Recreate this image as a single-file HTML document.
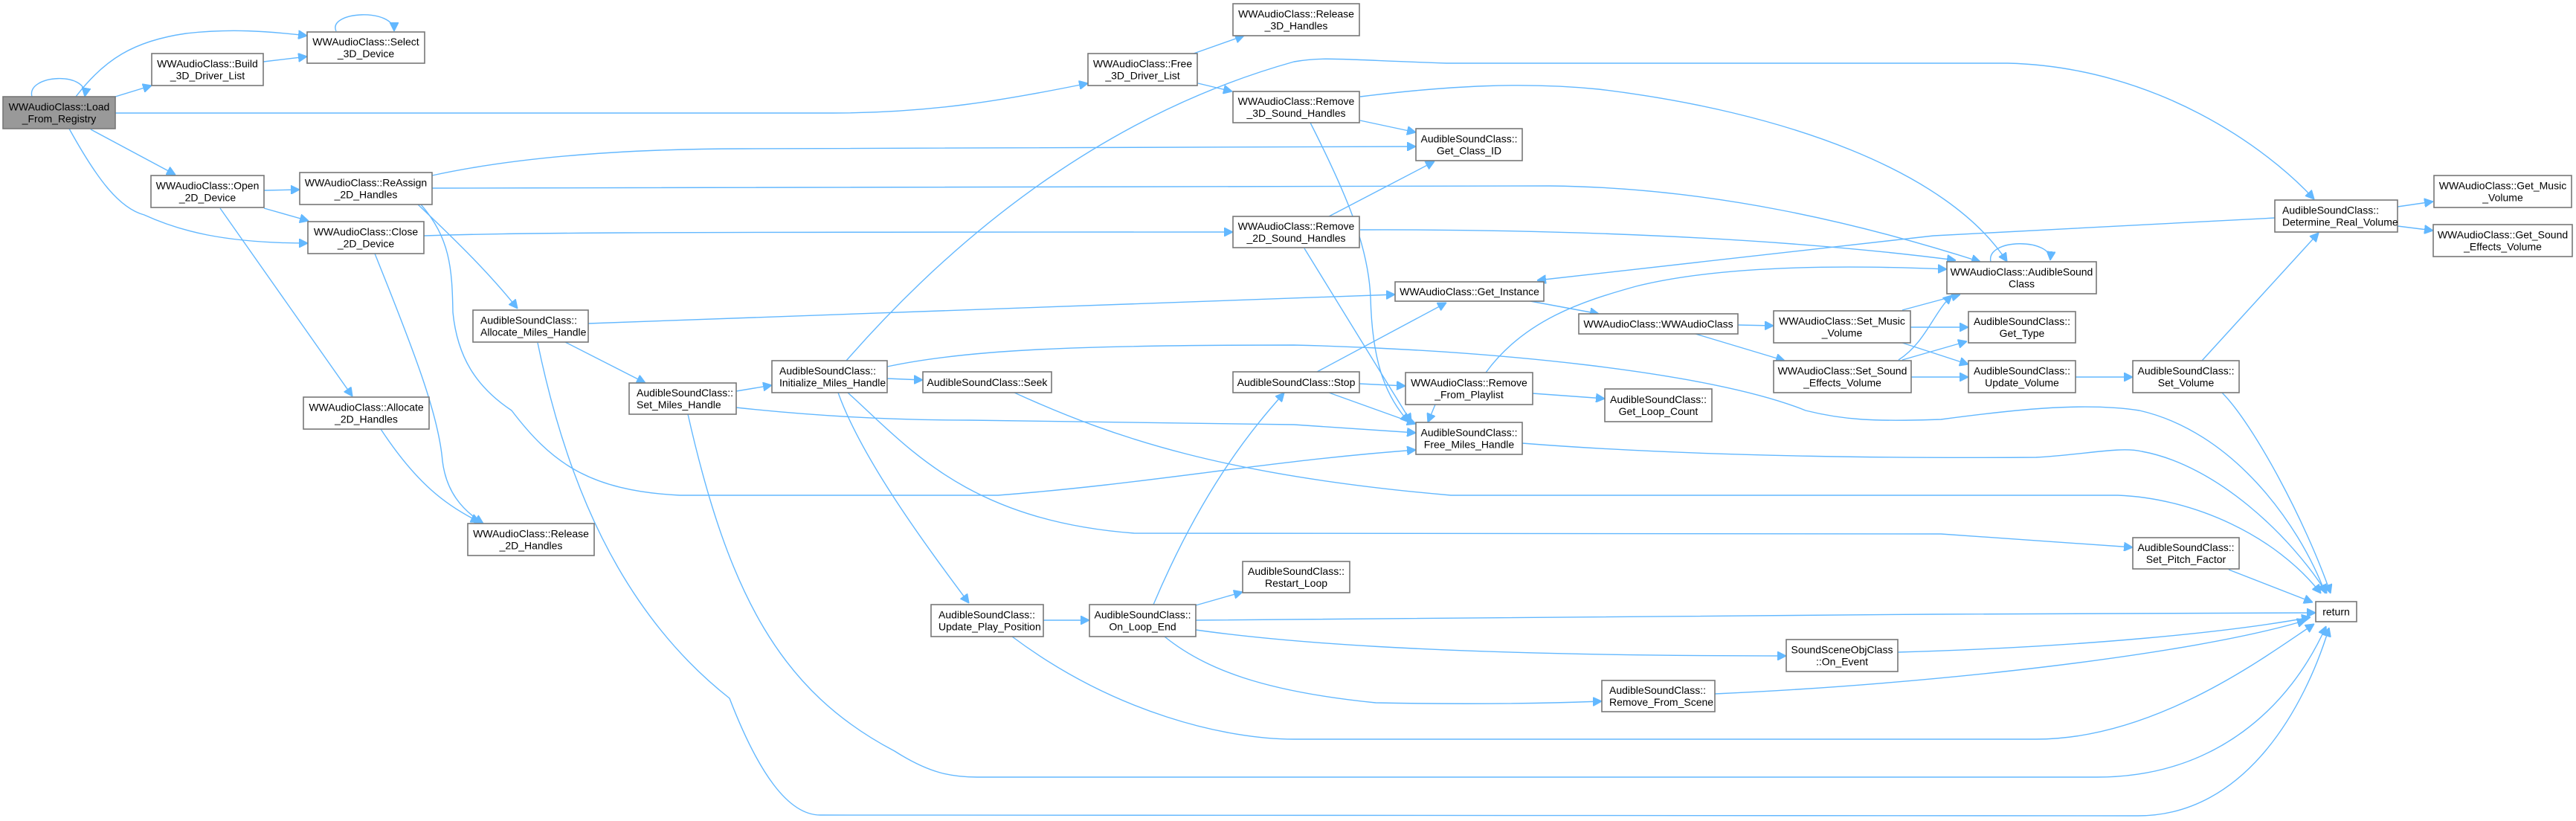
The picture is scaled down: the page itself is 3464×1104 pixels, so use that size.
<!DOCTYPE html>
<html><head><meta charset="utf-8"><style>
html,body{margin:0;padding:0;background:#fff;}
svg{display:block;}
text{font-family:"Liberation Sans",Arial,sans-serif;font-size:14px;fill:#000;}
.n{fill:#fff;stroke:#777;stroke-width:1.6;}
.e{fill:none;stroke:#63b8ff;stroke-width:1.4;}
</style></head><body>
<svg width="3464" height="1104" viewBox="0 0 3464 1104" xmlns="http://www.w3.org/2000/svg">
<defs>
<marker id="a" viewBox="0 0 10 10" refX="10" refY="5" markerWidth="12" markerHeight="12" markerUnits="userSpaceOnUse" orient="auto">
<path d="M0,0 L10,5 L0,10 z" fill="#63b8ff" stroke="#63b8ff"/>
</marker>
</defs>
<g class="e" marker-end="url(#a)">
<!-- Load self loop -->
<path d="M43,130 C35,100 120,95 114,130"/>
<!-- Load -> Select -->
<path d="M102,130 C140,80 180,55 250,45 C310,38 360,42 413,48"/>
<!-- Load -> Build -->
<path d="M155,130 L204,115"/>
<!-- Build -> Select -->
<path d="M354,83 L413,76"/>
<!-- Select self loop -->
<path d="M452,42 C440,15 530,10 530,42"/>
<!-- Load -> Free_3D -->
<path d="M155,152 L1120,152 C1250,152 1350,135 1463,112"/>
<!-- Load -> Open -->
<path d="M122,174 L236,235"/>
<!-- Load -> Close -->
<path d="M93,173 C130,240 160,280 194,289 C240,310 300,327 414,327"/>
<!-- Open -> ReAssign -->
<path d="M355,256 L403,255"/>
<!-- Open -> Close -->
<path d="M355,280 L415,297"/>
<!-- Open -> Allocate_2D -->
<path d="M296,280 L474,533"/>
<!-- Allocate_2D -> Release_2D -->
<path d="M512,577 C560,650 600,680 645,702"/>
<!-- Close -> Release_2D -->
<path d="M504,341 C560,480 590,560 595,620 C600,660 620,685 650,704"/>
<!-- Close -> Remove_2D -->
<path d="M570,317 C700,313 800,312 1658,312"/>
<!-- ReAssign -> Get_Class_ID -->
<path d="M581,236 C700,210 850,200 1000,200 L1904,197"/>
<!-- ReAssign -> AudibleSound Class -->
<path d="M581,253 L2084,250 C2300,252 2500,300 2663,352"/>
<!-- ReAssign -> Allocate_Miles -->
<path d="M562,275 C620,330 660,370 696,415"/>
<!-- ReAssign -> Free_Miles -->
<path d="M566,275 C605,320 608,360 609,420 C615,480 640,520 688,552 C740,620 790,660 914,666 L1342,666 C1550,650 1700,620 1904,605"/>
<!-- Allocate_Miles -> Get_Instance -->
<path d="M791,435 L1876,396"/>
<!-- Allocate_Miles -> Set_Miles -->
<path d="M760,460 L868,515"/>
<!-- Allocate_Miles -> return -->
<path d="M723,461 C760,640 830,820 981,939 C1020,1040 1060,1096 1103,1096 L2875,1097 C3020,1097 3100,950 3132,844"/>
<!-- Set_Miles -> return -->
<path d="M925,557 C980,800 1050,930 1203,1010 C1250,1040 1280,1045 1314,1045 L2820,1045 C2980,1045 3080,950 3128,842"/>
<!-- Set_Miles -> Initialize -->
<path d="M990,526 L1038,518"/>
<!-- Set_Miles -> Free_Miles -->
<path d="M990,548 C1100,560 1200,565 1303,565 L1740,571 L1904,582"/>
<!-- Initialize -> Seek -->
<path d="M1193,509 L1241,511"/>
<!-- Initialize -> Update_Play -->
<path d="M1127,528 C1160,620 1250,740 1303,811"/>
<!-- Initialize -> Set_Pitch -->
<path d="M1140,528 C1220,600 1300,700 1525,717 L2610,718 L2868,736"/>
<!-- Initialize -> Determine -->
<path d="M1138,485 C1300,300 1500,150 1740,83 C1780,76 1800,80 1945,85 L2700,85 C2900,90 3050,200 3112,268"/>
<!-- Initialize -> return -->
<path d="M1193,493 C1300,470 1450,464 1740,464 C2000,470 2300,500 2428,552 C2480,565 2520,567 2610,564 C2700,552 2800,540 2877,552 C3000,580 3090,700 3127,798"/>
<!-- Seek -> return -->
<path d="M1364,528 C1500,590 1650,640 1951,666 L2848,666 C2950,670 3060,720 3121,798"/>
<!-- Free_Miles -> return -->
<path d="M2047,596 C2300,616 2600,616 2738,615 C2800,612 2850,600 2880,607 C2980,625 3080,720 3129,798"/>
<!-- Update_Play -> On_Loop -->
<path d="M1403,834 L1465,834"/>
<!-- Update_Play -> return -->
<path d="M1361,856 C1500,960 1650,994 1740,994 L2738,994 C2900,994 3050,880 3112,839"/>
<!-- On_Loop -> return -->
<path d="M1608,834 L2600,826 L3114,824"/>
<!-- On_Loop -> Restart -->
<path d="M1608,814 L1671,796"/>
<!-- On_Loop -> Stop -->
<path d="M1551,813 C1620,650 1690,570 1727,528"/>
<!-- On_Loop -> On_Event -->
<path d="M1608,847 C1700,860 1900,882 2402,882"/>
<!-- On_Loop -> Remove_From_Scene -->
<path d="M1566,856 C1620,900 1700,930 1850,945 C2000,948 2100,945 2154,943"/>
<!-- On_Event -> return -->
<path d="M2552,877 C2800,870 3000,850 3107,830"/>
<!-- Remove_From_Scene -> return -->
<path d="M2306,933 C2600,920 2950,880 3101,834"/>
<!-- Set_Pitch -> return -->
<path d="M2997,766 L3110,810"/>
<!-- Stop -> Get_Instance -->
<path d="M1771,500 L1945,407"/>
<!-- Stop -> Remove_From_Playlist -->
<path d="M1828,516 L1890,519"/>
<!-- Stop -> Free_Miles -->
<path d="M1787,528 L1904,570"/>
<!-- Remove_From_Playlist -> Get_Loop_Count -->
<path d="M2061,529 L2158,536"/>
<!-- Remove_From_Playlist -> AudibleSound Class -->
<path d="M1998,501 C2050,430 2128,405 2200,385 C2300,360 2450,355 2618,362"/>
<!-- Remove_From_Playlist -> Free_Miles -->
<path d="M1930,544 L1920,568"/>
<!-- Get_Instance -> WWAudioClass -->
<path d="M2058,405 L2150,422"/>
<!-- WWAudioClass -> Set_Music -->
<path d="M2337,437 L2385,438"/>
<!-- WWAudioClass -> Set_SE -->
<path d="M2280,449 L2400,485"/>
<!-- Set_Music -> AudibleSound -->
<path d="M2558,417 L2636,396"/>
<!-- Set_Music -> Get_Type -->
<path d="M2569,440 L2647,440"/>
<!-- Set_Music -> Update_Volume -->
<path d="M2558,461 L2647,490"/>
<!-- Set_SE -> AudibleSound -->
<path d="M2553,484 C2590,460 2600,420 2625,397"/>
<!-- Set_SE -> Get_Type -->
<path d="M2558,484 L2645,459"/>
<!-- Set_SE -> Update_Volume -->
<path d="M2570,507 L2647,507"/>
<!-- Update_Volume -> Set_Volume -->
<path d="M2791,507 L2868,507"/>
<!-- Set_Volume -> Determine -->
<path d="M2961,485 L3118,313"/>
<!-- Set_Volume -> return -->
<path d="M2988,528 C3030,570 3100,700 3134,798"/>
<!-- Determine -> Get_Music -->
<path d="M3224,278 L3272,271"/>
<!-- Determine -> Get_SE -->
<path d="M3224,304 L3272,310"/>
<!-- Determine -> Get_Instance -->
<path d="M3059,293 L2600,317 L2067,377"/>
<!-- AudibleSound self loop -->
<path d="M2677,352 C2670,320 2760,320 2757,350"/>
<!-- Remove_3D -> Get_Class_ID -->
<path d="M1829,162 L1904,178"/>
<!-- Remove_2D -> Get_Class_ID -->
<path d="M1787,291 L1929,217"/>
<!-- Remove_3D -> AudibleSound -->
<path d="M1829,130 C1950,115 2050,110 2150,120 C2400,150 2620,230 2699,352"/>
<!-- Remove_2D -> AudibleSound -->
<path d="M1829,309 C2100,308 2400,320 2630,350"/>
<!-- Remove_3D -> Free_Miles -->
<path d="M1762,165 C1810,260 1840,330 1843,400 C1845,480 1860,530 1895,568"/>
<!-- Remove_2D -> Free_Miles -->
<path d="M1754,334 L1898,568"/>
<!-- Free_3D -> Release_3D -->
<path d="M1605,72 L1673,48"/>
<!-- Free_3D -> Remove_3D -->
<path d="M1611,112 L1657,123"/>
</g>
<g>
<rect class="n" x="4" y="130" width="151" height="43" style="fill:#999"/>
<text x="79.5" y="148.5" text-anchor="middle">WWAudioClass::Load</text><text x="79.5" y="164.5" text-anchor="middle">_From_Registry</text>

<rect class="n" x="204" y="72" width="150" height="43"/>
<text x="279" y="90.5" text-anchor="middle">WWAudioClass::Build</text><text x="279" y="106.5" text-anchor="middle">_3D_Driver_List</text>

<rect class="n" x="413" y="43" width="158" height="42"/>
<text x="492" y="61" text-anchor="middle">WWAudioClass::Select</text><text x="492" y="77" text-anchor="middle">_3D_Device</text>

<rect class="n" x="203" y="236" width="152" height="43"/>
<text x="279" y="254.5" text-anchor="middle">WWAudioClass::Open</text><text x="279" y="270.5" text-anchor="middle">_2D_Device</text>

<rect class="n" x="403" y="232" width="178" height="43"/>
<text x="492" y="250.5" text-anchor="middle">WWAudioClass::ReAssign</text><text x="492" y="266.5" text-anchor="middle">_2D_Handles</text>

<rect class="n" x="414" y="298" width="156" height="43"/>
<text x="492" y="316.5" text-anchor="middle">WWAudioClass::Close</text><text x="492" y="332.5" text-anchor="middle">_2D_Device</text>

<rect class="n" x="636" y="417" width="155" height="43"/>
<text x="646" y="435.5">AudibleSoundClass::</text><text x="646" y="451.5">Allocate_Miles_Handle</text>

<rect class="n" x="408" y="534" width="169" height="43"/>
<text x="492.5" y="552.5" text-anchor="middle">WWAudioClass::Allocate</text><text x="492.5" y="568.5" text-anchor="middle">_2D_Handles</text>

<rect class="n" x="629" y="704" width="170" height="43"/>
<text x="714" y="722.5" text-anchor="middle">WWAudioClass::Release</text><text x="714" y="738.5" text-anchor="middle">_2D_Handles</text>

<rect class="n" x="846" y="515" width="144" height="42"/>
<text x="856" y="533">AudibleSoundClass::</text><text x="856" y="549">Set_Miles_Handle</text>

<rect class="n" x="1463" y="72" width="147" height="43"/>
<text x="1536.5" y="90.5" text-anchor="middle">WWAudioClass::Free</text><text x="1536.5" y="106.5" text-anchor="middle">_3D_Driver_List</text>

<rect class="n" x="1658" y="5" width="170" height="43"/>
<text x="1743" y="23.5" text-anchor="middle">WWAudioClass::Release</text><text x="1743" y="39.5" text-anchor="middle">_3D_Handles</text>

<rect class="n" x="1658" y="123" width="170" height="42"/>
<text x="1743" y="141" text-anchor="middle">WWAudioClass::Remove</text><text x="1743" y="157" text-anchor="middle">_3D_Sound_Handles</text>

<rect class="n" x="1658" y="291" width="170" height="42"/>
<text x="1743" y="309" text-anchor="middle">WWAudioClass::Remove</text><text x="1743" y="325" text-anchor="middle">_2D_Sound_Handles</text>

<rect class="n" x="1038" y="485" width="155" height="43"/>
<text x="1048" y="503.5">AudibleSoundClass::</text><text x="1048" y="519.5">Initialize_Miles_Handle</text>

<rect class="n" x="1241" y="500" width="173" height="28"/>
<text x="1327.5" y="519" text-anchor="middle">AudibleSoundClass::Seek</text>

<rect class="n" x="1658" y="500" width="170" height="28"/>
<text x="1743" y="519" text-anchor="middle">AudibleSoundClass::Stop</text>

<rect class="n" x="1252" y="813" width="151" height="43"/>
<text x="1262" y="831.5">AudibleSoundClass::</text><text x="1262" y="847.5">Update_Play_Position</text>

<rect class="n" x="1465" y="813" width="143" height="43"/>
<text x="1536.5" y="831.5" text-anchor="middle">AudibleSoundClass::</text><text x="1536.5" y="847.5" text-anchor="middle">On_Loop_End</text>

<rect class="n" x="1671" y="755" width="144" height="42"/>
<text x="1743" y="773" text-anchor="middle">AudibleSoundClass::</text><text x="1743" y="789" text-anchor="middle">Restart_Loop</text>

<rect class="n" x="1904" y="173" width="143" height="43"/>
<text x="1975.5" y="191.5" text-anchor="middle">AudibleSoundClass::</text><text x="1975.5" y="207.5" text-anchor="middle">Get_Class_ID</text>

<rect class="n" x="1876" y="379" width="200" height="26"/>
<text x="1976" y="397" text-anchor="middle">WWAudioClass::Get_Instance</text>

<rect class="n" x="2123" y="422" width="214" height="27"/>
<text x="2230" y="440.5" text-anchor="middle">WWAudioClass::WWAudioClass</text>

<rect class="n" x="2385" y="418" width="184" height="43"/>
<text x="2477" y="436.5" text-anchor="middle">WWAudioClass::Set_Music</text><text x="2477" y="452.5" text-anchor="middle">_Volume</text>

<rect class="n" x="2385" y="485" width="185" height="43"/>
<text x="2477.5" y="503.5" text-anchor="middle">WWAudioClass::Set_Sound</text><text x="2477.5" y="519.5" text-anchor="middle">_Effects_Volume</text>

<rect class="n" x="1890" y="501" width="171" height="43"/>
<text x="1975.5" y="519.5" text-anchor="middle">WWAudioClass::Remove</text><text x="1975.5" y="535.5" text-anchor="middle">_From_Playlist</text>

<rect class="n" x="2158" y="523" width="144" height="44"/>
<text x="2230" y="542" text-anchor="middle">AudibleSoundClass::</text><text x="2230" y="558" text-anchor="middle">Get_Loop_Count</text>

<rect class="n" x="1904" y="568" width="143" height="43"/>
<text x="1975.5" y="586.5" text-anchor="middle">AudibleSoundClass::</text><text x="1975.5" y="602.5" text-anchor="middle">Free_Miles_Handle</text>

<rect class="n" x="2402" y="860" width="150" height="43"/>
<text x="2477" y="878.5" text-anchor="middle">SoundSceneObjClass</text><text x="2477" y="894.5" text-anchor="middle">::On_Event</text>

<rect class="n" x="2154" y="915" width="152" height="42"/>
<text x="2164" y="933">AudibleSoundClass::</text><text x="2164" y="949">Remove_From_Scene</text>

<rect class="n" x="2618" y="352" width="201" height="43"/>
<text x="2718.5" y="370.5" text-anchor="middle">WWAudioClass::AudibleSound</text><text x="2718.5" y="386.5" text-anchor="middle">Class</text>

<rect class="n" x="2647" y="419" width="144" height="42"/>
<text x="2719" y="437" text-anchor="middle">AudibleSoundClass::</text><text x="2719" y="453" text-anchor="middle">Get_Type</text>

<rect class="n" x="2647" y="485" width="144" height="43"/>
<text x="2719" y="503.5" text-anchor="middle">AudibleSoundClass::</text><text x="2719" y="519.5" text-anchor="middle">Update_Volume</text>

<rect class="n" x="2868" y="485" width="143" height="43"/>
<text x="2939.5" y="503.5" text-anchor="middle">AudibleSoundClass::</text><text x="2939.5" y="519.5" text-anchor="middle">Set_Volume</text>

<rect class="n" x="3059" y="269" width="165" height="43"/>
<text x="3069" y="287.5">AudibleSoundClass::</text><text x="3069" y="303.5">Determine_Real_Volume</text>

<rect class="n" x="3273" y="236" width="185" height="43"/>
<text x="3365.5" y="254.5" text-anchor="middle">WWAudioClass::Get_Music</text><text x="3365.5" y="270.5" text-anchor="middle">_Volume</text>

<rect class="n" x="3272" y="302" width="187" height="43"/>
<text x="3365.5" y="320.5" text-anchor="middle">WWAudioClass::Get_Sound</text><text x="3365.5" y="336.5" text-anchor="middle">_Effects_Volume</text>

<rect class="n" x="2868" y="723" width="143" height="42"/>
<text x="2939.5" y="741" text-anchor="middle">AudibleSoundClass::</text><text x="2939.5" y="757" text-anchor="middle">Set_Pitch_Factor</text>

<rect class="n" x="3114" y="809" width="55" height="27"/>
<text x="3141.5" y="827.5" text-anchor="middle">return</text>
</g>
</svg>
</body></html>
